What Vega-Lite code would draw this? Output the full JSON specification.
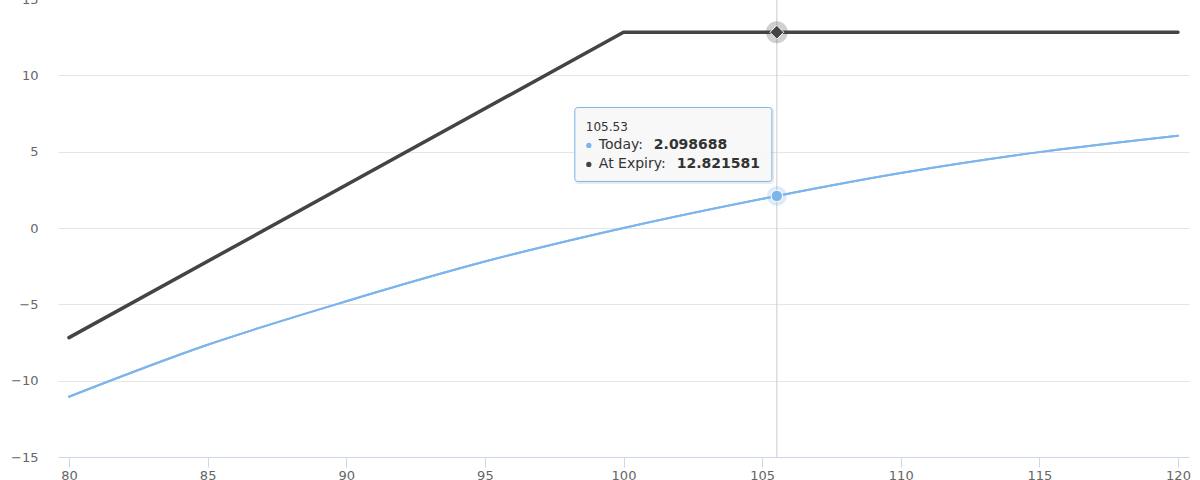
{
  "$schema": "https://vega.github.io/schema/vega-lite/v6.json",
  "width": 1131,
  "height": 458,
  "autosize": {"type": "none"},
  "padding": {"left": 58, "top": -1, "right": 11, "bottom": 23},
  "background": "white",
  "config": {"view": {"stroke": null}, "font": "DejaVu Sans"},
  "datasets": {
    "curves": [
      {"x": 80, "series": "Today", "y": -11.05},
      {"x": 85, "series": "Today", "y": -7.65},
      {"x": 90, "series": "Today", "y": -4.8},
      {"x": 95, "series": "Today", "y": -2.2},
      {"x": 100, "series": "Today", "y": 0.0},
      {"x": 105.53, "series": "Today", "y": 2.098688},
      {"x": 110, "series": "Today", "y": 3.6},
      {"x": 115, "series": "Today", "y": 4.97},
      {"x": 120, "series": "Today", "y": 6.05},
      {"x": 80, "series": "At Expiry", "y": -7.18},
      {"x": 100, "series": "At Expiry", "y": 12.82},
      {"x": 105.53, "series": "At Expiry", "y": 12.821581},
      {"x": 120, "series": "At Expiry", "y": 12.82}
    ],
    "hover": [{"x": 105.53, "today": 2.098688, "expiry": 12.821581}]
  },
  "layer": [
    {
      "data": {"name": "curves"},
      "transform": [{"filter": "datum.series === 'Today'"}],
      "mark": {"type": "line", "color": "#7cb5ec", "strokeWidth": 2, "interpolate": "monotone", "strokeCap": "round"},
      "encoding": {
        "x": {
          "field": "x", "type": "quantitative", "title": null,
          "scale": {"domain": [79.603, 120.397], "nice": false, "zero": false},
          "axis": {
            "values": [80, 85, 90, 95, 100, 105, 110, 115, 120],
            "grid": false, "domain": true, "domainColor": "#ccd6eb", "domainWidth": 1,
            "ticks": true, "tickColor": "#ccd6eb", "tickSize": 10, "tickWidth": 1,
            "labelFontSize": 13, "labelColor": "#666666", "labelPadding": 2,
            "labelFont": "DejaVu Sans", "labelFlush": false, "labelOverlap": false
          }
        },
        "y": {
          "field": "y", "type": "quantitative", "title": null,
          "scale": {"domain": [-15, 15], "nice": false, "zero": false},
          "axis": {
            "values": [-15, -10, -5, 0, 5, 10, 15],
            "grid": true, "gridColor": "#e6e6e6", "gridWidth": 1,
            "domain": false, "ticks": false, "tickSize": 0,
            "labelFontSize": 13, "labelColor": "#666666", "labelPadding": 20,
            "labelFont": "DejaVu Sans", "labelFlush": false, "labelOverlap": false
          }
        }
      }
    },
    {
      "data": {"name": "hover"},
      "mark": {"type": "rule", "color": "#cccccc", "strokeWidth": 1},
      "encoding": {"x": {"field": "x", "type": "quantitative", "title": null}}
    },
    {
      "data": {"name": "curves"},
      "transform": [{"filter": "datum.series === 'Today'"}],
      "mark": {"type": "line", "color": "#7cb5ec", "strokeWidth": 2, "interpolate": "monotone", "strokeCap": "round"},
      "encoding": {
        "x": {"field": "x", "type": "quantitative", "title": null},
        "y": {"field": "y", "type": "quantitative", "title": null}
      }
    },
    {
      "data": {"name": "curves"},
      "transform": [{"filter": "datum.series === 'At Expiry'"}],
      "mark": {"type": "line", "color": "#434348", "strokeWidth": 3.5, "strokeCap": "round", "strokeJoin": "round"},
      "encoding": {
        "x": {"field": "x", "type": "quantitative", "title": null},
        "y": {"field": "y", "type": "quantitative", "title": null}
      }
    },
    {
      "data": {"name": "hover"},
      "mark": {"type": "circle", "size": 400, "color": "#7cb5ec", "opacity": 0.25},
      "encoding": {
        "x": {"field": "x", "type": "quantitative", "title": null},
        "y": {"field": "today", "type": "quantitative", "title": null}
      }
    },
    {
      "data": {"name": "hover"},
      "mark": {"type": "circle", "size": 130, "color": "#7cb5ec", "opacity": 1, "stroke": "#ffffff", "strokeWidth": 1},
      "encoding": {
        "x": {"field": "x", "type": "quantitative", "title": null},
        "y": {"field": "today", "type": "quantitative", "title": null}
      }
    },
    {
      "data": {"name": "hover"},
      "mark": {"type": "circle", "size": 480, "color": "#434348", "opacity": 0.25},
      "encoding": {
        "x": {"field": "x", "type": "quantitative", "title": null},
        "y": {"field": "expiry", "type": "quantitative", "title": null}
      }
    },
    {
      "data": {"name": "hover"},
      "mark": {"type": "point", "shape": "diamond", "size": 190, "filled": true, "color": "#434348", "opacity": 1, "stroke": "#ffffff", "strokeWidth": 1},
      "encoding": {
        "x": {"field": "x", "type": "quantitative", "title": null},
        "y": {"field": "expiry", "type": "quantitative", "title": null}
      }
    },
    {
      "data": {"name": "hover"},
      "mark": {"type": "rect", "fill": "#000000", "fillOpacity": 0, "stroke": "#000000", "strokeOpacity": 0.08, "strokeWidth": 3, "cornerRadius": 3,
        "xOffset": -201, "x2Offset": -4, "yOffset": -87.5, "y2Offset": -13.5},
      "encoding": {
        "x": {"field": "x", "type": "quantitative", "title": null},
        "x2": {"field": "x"},
        "y": {"field": "today", "type": "quantitative", "title": null},
        "y2": {"field": "today"}
      }
    },
    {
      "data": {"name": "hover"},
      "mark": {"type": "rect", "fill": "#f7f7f7", "fillOpacity": 0.92, "stroke": "#7cb5ec", "strokeWidth": 1, "cornerRadius": 3,
        "xOffset": -202, "x2Offset": -5, "yOffset": -88.5, "y2Offset": -14.5},
      "encoding": {
        "x": {"field": "x", "type": "quantitative", "title": null},
        "x2": {"field": "x"},
        "y": {"field": "today", "type": "quantitative", "title": null},
        "y2": {"field": "today"}
      }
    },
    {
      "data": {"name": "hover"},
      "mark": {"type": "text", "align": "left", "baseline": "middle", "fontSize": 12, "color": "#333333", "dx": -191, "dy": -68.5},
      "encoding": {
        "x": {"field": "x", "type": "quantitative", "title": null},
        "y": {"field": "today", "type": "quantitative", "title": null},
        "text": {"field": "x", "type": "quantitative", "format": ".2f"}
      }
    },
    {
      "data": {"name": "hover"},
      "mark": {"type": "circle", "size": 28, "color": "#7cb5ec", "opacity": 1, "xOffset": -188, "yOffset": -50.5},
      "encoding": {
        "x": {"field": "x", "type": "quantitative", "title": null},
        "y": {"field": "today", "type": "quantitative", "title": null}
      }
    },
    {
      "data": {"name": "hover"},
      "mark": {"type": "circle", "size": 28, "color": "#434348", "opacity": 1, "xOffset": -188, "yOffset": -31.5},
      "encoding": {
        "x": {"field": "x", "type": "quantitative", "title": null},
        "y": {"field": "today", "type": "quantitative", "title": null}
      }
    },
    {
      "data": {"name": "hover"},
      "mark": {"type": "text", "align": "left", "baseline": "middle", "fontSize": 14, "color": "#333333", "dx": -178, "dy": -50.5, "text": "Today:"},
      "encoding": {
        "x": {"field": "x", "type": "quantitative", "title": null},
        "y": {"field": "today", "type": "quantitative", "title": null}
      }
    },
    {
      "data": {"name": "hover"},
      "mark": {"type": "text", "align": "left", "baseline": "middle", "fontSize": 14, "fontWeight": "bold", "color": "#333333", "dx": -123, "dy": -50.5},
      "encoding": {
        "x": {"field": "x", "type": "quantitative", "title": null},
        "y": {"field": "today", "type": "quantitative", "title": null},
        "text": {"field": "today", "type": "quantitative", "format": ".6f"}
      }
    },
    {
      "data": {"name": "hover"},
      "mark": {"type": "text", "align": "left", "baseline": "middle", "fontSize": 14, "color": "#333333", "dx": -178, "dy": -31.5, "text": "At Expiry:"},
      "encoding": {
        "x": {"field": "x", "type": "quantitative", "title": null},
        "y": {"field": "today", "type": "quantitative", "title": null}
      }
    },
    {
      "data": {"name": "hover"},
      "mark": {"type": "text", "align": "left", "baseline": "middle", "fontSize": 14, "fontWeight": "bold", "color": "#333333", "dx": -100, "dy": -31.5},
      "encoding": {
        "x": {"field": "x", "type": "quantitative", "title": null},
        "y": {"field": "today", "type": "quantitative", "title": null},
        "text": {"field": "expiry", "type": "quantitative", "format": ".6f"}
      }
    }
  ]
}
